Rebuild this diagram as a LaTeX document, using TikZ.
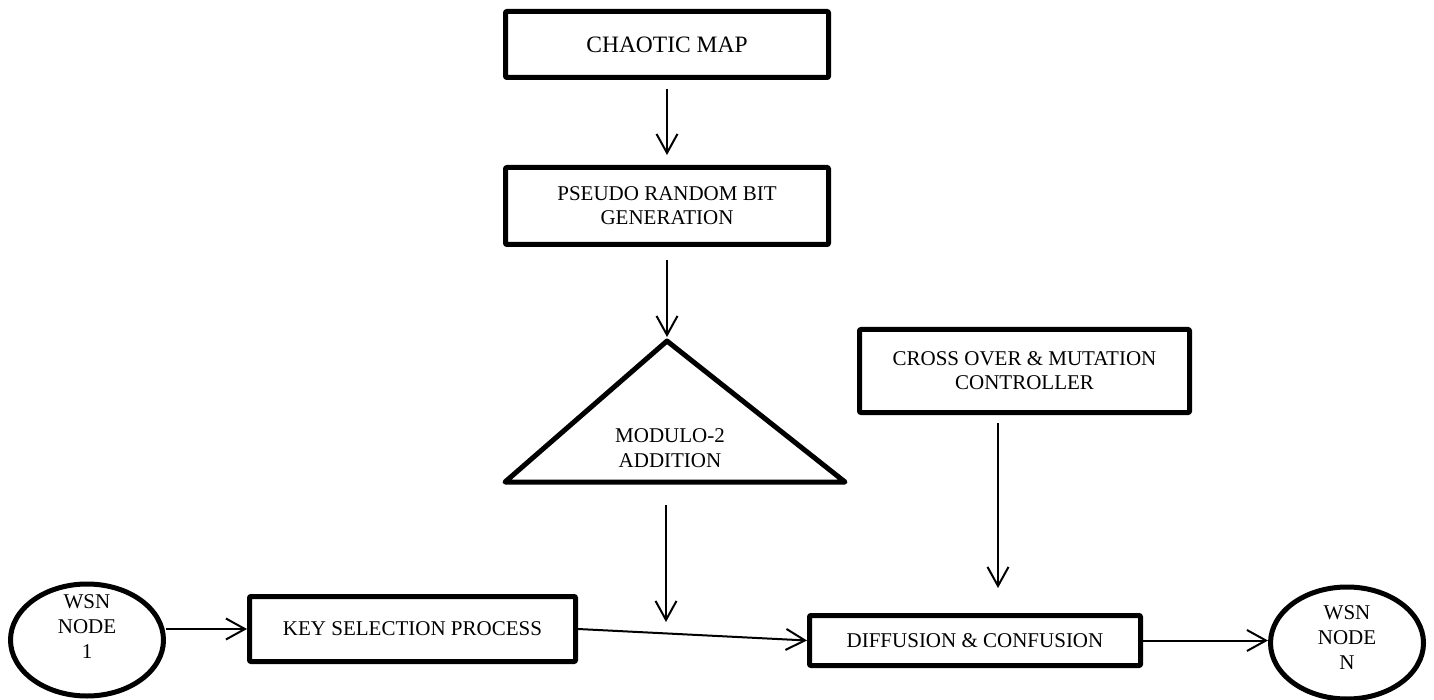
\documentclass[tikz,border=0pt]{standalone}
\usepackage{fontspec}
\setmainfont{Liberation Serif}
\usetikzlibrary{arrows.meta,shapes.geometric}

\begin{document}
\begin{tikzpicture}[x=1pt,y=-1pt,line join=round,
    box/.style={draw, line width=5pt, rounded corners=1pt, inner sep=0pt, align=center, font=\fontsize{21}{24}\selectfont},
    wsn/.style={draw, ellipse, line width=5pt, minimum width=153pt, minimum height=112pt, inner sep=0pt},
    lbl/.style={align=center, inner sep=0pt, font=\fontsize{21}{25}\selectfont},
    arr/.style={-{Straight Barb[length=19pt,width=21pt,line width=2pt]}, line width=2pt}]
    \useasboundingbox (0,0) rectangle (1434,700);
    % column in the middle
    \node[box, minimum width=323pt, minimum height=66pt, font=\fontsize{23.5}{27}\selectfont] (chaos) at ( 667.0, 44.5) {CHAOTIC MAP};
    \node[box, minimum width=323pt, minimum height=77pt]                                       (prbg)  at ( 667.0,206.0) {PSEUDO RANDOM BIT\\GENERATION};
    \draw[line width=5pt] (667,341) coordinate (modtop) -- (845,482) -- (505,482) -- cycle;
    \node[lbl]                                                                                 (mod)   at ( 670.0,448.0) {MODULO-2\\ADDITION};
    \coordinate (modbase) at (666,482);
    \coordinate (join)    at (666,622);
    % right branch
    \node[box, minimum width=330pt, minimum height=83pt]                                       (cross) at (1024.5,371.0) {CROSS OVER \& MUTATION\\CONTROLLER};
    % bottom row
    \node[wsn]                                                                                 (wsn1)  at (  87.0,640.0) {};
    \node[lbl]                                                                                 (wsn1txt) at ( 87.0,627.0) {WSN\\NODE\\1};
    \node[box, minimum width=326pt, minimum height=65pt]                                       (key)   at ( 412.5,629.0) {KEY SELECTION PROCESS};
    \node[box, minimum width=331pt, minimum height=50pt]                                       (diff)  at ( 975.0,640.5) {DIFFUSION \& CONFUSION};
    \node[wsn]                                                                                 (wsnN)  at (1347.0,643.0) {};
    \node[lbl]                                                                                 (wsnNtxt) at (1347.0,638.0) {WSN\\NODE\\N};
    % connectors
    \draw[arr, shorten <=9pt,  shorten >=10pt] (chaos) -- (prbg);
    \draw[arr, shorten <=13pt, shorten >=4pt]  (prbg.south) -- (modtop);
    \draw[arr, shorten <=23pt]                 (modbase) -- (join);
    \draw[arr, shorten <=8pt,  shorten >=25pt] ([xshift=-26.5pt]cross.south) -- ([xshift=23pt]diff.north);
    \draw[arr] (wsn1.east |- key.west) -- (key.west);
    \draw[arr] (key.east) -- (diff.west);
    \draw[arr] (diff.east) -- (diff.east -| wsnN.west);
\end{tikzpicture}
\end{document}
